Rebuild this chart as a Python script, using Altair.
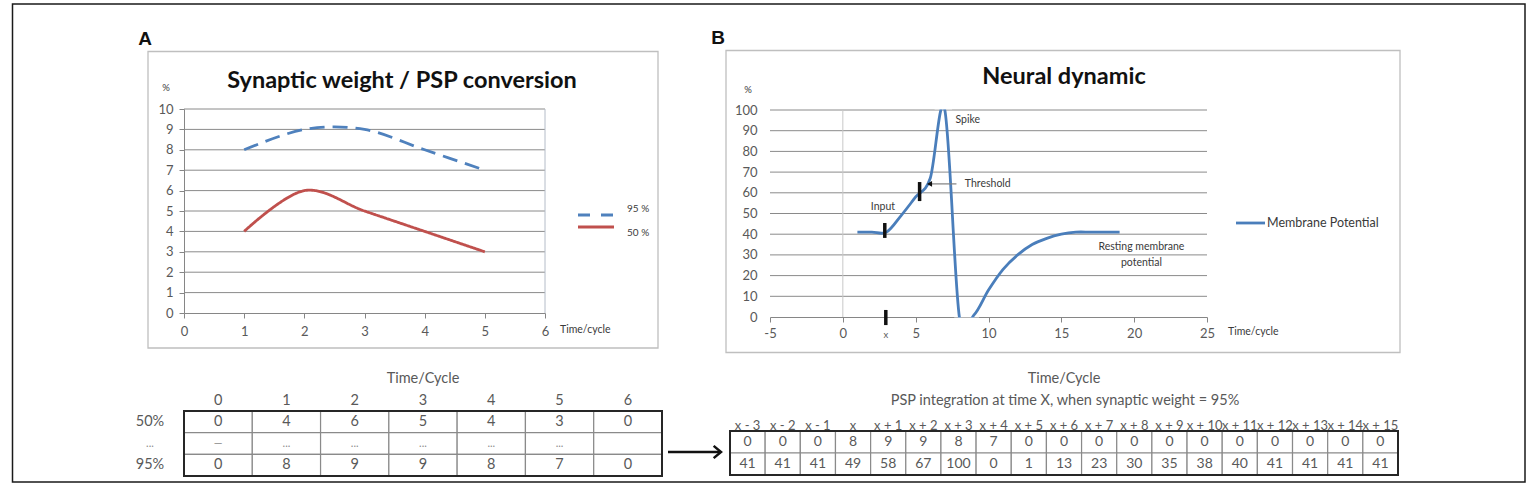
import altair as alt
import pandas as pd

# ---------------- data ----------------
a_time = [1, 2, 3, 4, 5]
a_w95 = [8, 9, 9, 8, 7]
a_w50 = [4, 6, 5, 4, 3]
a_series = ["95 %", "50 %"]
a_xticks = [0, 1, 2, 3, 4, 5, 6]
a_yticks = [0, 1, 2, 3, 4, 5, 6, 7, 8, 9, 10]

b_time = [1, 2, 3, 4, 5, 6, 7, 8, 9, 10, 11, 12, 13, 14, 15, 16, 17, 18, 19]
b_membrane = [41, 41, 41, 49, 58, 67, 100, 0, 1, 13, 23, 30, 35, 38, 40, 41, 41, 41, 41]
b_series = ["Membrane Potential"]
b_xticks = [-5, 0, 5, 10, 15, 20, 25]
b_yticks = [0, 10, 20, 30, 40, 50, 60, 70, 80, 90, 100]

b_notes = ["Spike", "Threshold", "Input", "Resting membrane", "potential"]
b_note_x = [8.58, 9.95, 2.75, 20.5, 20.5]
b_note_y = [95.2, 64.3, 53.0, 33.8, 26.0]
b_bar_x = [2.88, 5.27, 2.95]
b_bar_lo = [38.2, 56.0, -3.9]
b_bar_hi = [45.4, 65.2, 3.4]

ta_cols = ["0", "1", "2", "3", "4", "5", "6"]
ta_rows = ["50%", "...", "95%"]
ta_50 = ["0", "4", "6", "5", "4", "3", "0"]
ta_dots = ["\u2014", "...", "...", "...", "...", "...", ""]
ta_95 = ["0", "8", "9", "9", "8", "7", "0"]

tb_cols = ["x - 3", "x - 2", "x - 1", "x", "x + 1", "x + 2", "x + 3", "x + 4", "x + 5",
           "x + 6", "x + 7", "x + 8", "x + 9", "x + 10", "x + 11", "x + 12", "x + 13",
           "x + 14", "x + 15"]
tb_rows = ["psp", "mp"]
tb_psp = [0, 0, 0, 8, 9, 9, 8, 7, 0, 0, 0, 0, 0, 0, 0, 0, 0, 0, 0]
tb_mp = [41, 41, 41, 49, 58, 67, 100, 0, 1, 13, 23, 30, 35, 38, 40, 41, 41, 41, 41]

# ---------------- style ----------------
FONT = "Lato"
GRID = "#8A8A8A"
AXC = "#868686"
LAB = "#595959"
DARK = "#3A3A3A"
BLUE = "#4A7EBB"
BLUE2 = "#4F81BD"
RED = "#C0504D"
CELL = "#8A8A8A"

one = pd.DataFrame({"k": [0]})


def label(text, x, y, size, color=DARK, weight="normal", align="center",
          baseline="middle", font=FONT):
    return alt.Chart(pd.DataFrame({"t": [text]})).mark_text(
        font=font, fontSize=size, color=color, fontWeight=weight,
        align=align, baseline=baseline
    ).encode(x=alt.value(x), y=alt.value(y), text="t:N")


def box(x, x2, y, y2, stroke, sw):
    return alt.Chart(one).mark_rect(
        fill="white", fillOpacity=0, stroke=stroke, strokeWidth=sw
    ).encode(x=alt.value(x), x2=alt.value(x2), y=alt.value(y), y2=alt.value(y2))


def axis(orient, offset, values=None, **kw):
    base = dict(orient=orient, offset=offset, title=None, grid=False,
                labelFont=FONT, labelColor=LAB, labelFontSize=13,
                domainColor=AXC, tickColor=AXC, labelFlush=False,
                labelOverlap=False, labelAngle=0)
    if values is not None:
        base["values"] = values
    base.update(kw)
    return alt.Axis(**base)


layers = []

# ---------------- frames & panel letters ----------------
layers.append(box(12.5, 1525, 4, 482, "#1a1a1a", 1.5))
layers.append(box(148, 658, 51.5, 348, "#BFBFBF", 1.3))
layers.append(box(726, 1400, 50.5, 352.5, "#BFBFBF", 1.3))
layers.append(label("A", 145, 39, 19, "#111111", "bold", font="Liberation Sans"))
layers.append(label("B", 718, 38, 19, "#111111", "bold", font="Liberation Sans"))

# ---------------- panel A ----------------
A_X = alt.Scale(domain=[0, 6], range=[184, 545], nice=False, zero=False)
A_Y = alt.Scale(domain=[0, 10], range=[313, 109], nice=False, zero=False)
A_COL = alt.Scale(domain=a_series, range=[BLUE2, RED])
A_DASH = alt.Scale(domain=a_series, range=[[15, 8], [1, 0]])

layers.append(label("Synaptic weight / PSP conversion", 402, 88, 23.5, "#111111", "bold",
                    baseline="alphabetic"))
layers.append(label("%", 166, 88, 9.5, DARK))
layers.append(label("Time/cycle", 560, 330, 10.5, DARK, align="left"))

layers.append(
    alt.Chart(pd.DataFrame({"g": a_yticks[1:]})).mark_rule(color=GRID, strokeWidth=1).encode(
        y=alt.Y("g:Q", scale=A_Y, axis=None),
        x=alt.XDatum(0, type="quantitative", scale=A_X, axis=None),
        x2=alt.X2Datum(6),
    )
)
layers.append(
    alt.Chart(one).mark_rule(color="#B4BCC8", strokeWidth=1).encode(
        x=alt.XDatum(6, type="quantitative", scale=A_X, axis=None),
        y=alt.YDatum(0, type="quantitative", scale=A_Y, axis=None),
        y2=alt.Y2Datum(10),
    )
)

dfA = pd.DataFrame({
    "t": a_time + a_time,
    "v": a_w95 + a_w50,
    "s": [a_series[0]] * len(a_time) + [a_series[1]] * len(a_time),
})
layers.append(
    alt.Chart(dfA).mark_line(interpolate="cardinal", strokeWidth=2.8).encode(
        x=alt.X("t:Q", scale=A_X,
                axis=axis("bottom", -170, a_xticks, tickSize=5, labelPadding=7)),
        y=alt.Y("v:Q", scale=A_Y,
                axis=axis("left", -184, a_yticks, tickSize=5, labelPadding=6)),
        color=alt.Color("s:N", scale=A_COL, legend=None),
        strokeDash=alt.StrokeDash("s:N", scale=A_DASH, legend=None),
        detail="s:N",
    )
)

A_LEG_Y = alt.Scale(domain=a_series, range=[209, 233], padding=0)
dfAL = pd.DataFrame({"s": a_series})
layers.append(
    alt.Chart(dfAL).mark_rule(strokeWidth=2.8).encode(
        x=alt.value(578), x2=alt.value(614),
        y=alt.Y("s:N", scale=A_LEG_Y, axis=None),
        color=alt.Color("s:N", scale=A_COL, legend=None),
        strokeDash=alt.StrokeDash("s:N", scale=alt.Scale(domain=a_series, range=[[12, 11], [1, 0]]),
                                  legend=None),
    )
)
layers.append(
    alt.Chart(dfAL).mark_text(font=FONT, fontSize=10, color=DARK, align="left",
                              baseline="middle").encode(
        x=alt.value(627),
        y=alt.Y("s:N", scale=A_LEG_Y, axis=None),
        text="s:N",
    )
)

# ---------------- panel B ----------------
B_X = alt.Scale(domain=[-5, 25], range=[770, 1207], nice=False, zero=False)
B_Y = alt.Scale(domain=[0, 100], range=[317, 110], nice=False, zero=False)

layers.append(label("Neural dynamic", 1064, 84, 23.5, "#111111", "bold", baseline="alphabetic"))
layers.append(label("%", 748, 90, 9.5, DARK))
layers.append(label("Time/cycle", 1228, 332, 10.5, DARK, align="left"))

layers.append(
    alt.Chart(pd.DataFrame({"g": b_yticks[1:]})).mark_rule(color=GRID, strokeWidth=1).encode(
        y=alt.Y("g:Q", scale=B_Y, axis=None),
        x=alt.XDatum(-5, type="quantitative", scale=B_X, axis=None),
        x2=alt.X2Datum(25),
    )
)
layers.append(
    alt.Chart(one).mark_rule(color="#C8C8C8", strokeWidth=1).encode(
        x=alt.XDatum(0, type="quantitative", scale=B_X, axis=None),
        y=alt.YDatum(0, type="quantitative", scale=B_Y, axis=None),
        y2=alt.Y2Datum(100),
    )
)

dfB = pd.DataFrame({"t": b_time, "v": b_membrane})
layers.append(
    alt.Chart(dfB).mark_line(interpolate="cardinal", color=BLUE, strokeWidth=2.8).encode(
        x=alt.X("t:Q", scale=B_X,
                axis=axis("bottom", -166, b_xticks, tickSize=5, labelPadding=5,
                          labelExpr="'' + datum.value")),
        y=alt.Y("v:Q", scale=B_Y,
                axis=axis("left", -770, b_yticks, ticks=False, domain=False,
                          tickSize=0, labelPadding=13)),
    )
)
# white masks where the chart area clips the smoothed curve
layers.append(
    alt.Chart(one).mark_rect(color="white").encode(
        x=alt.XDatum(6.3, type="quantitative", scale=B_X, axis=None), x2=alt.X2Datum(7.5),
        y=alt.YDatum(100.3, type="quantitative", scale=B_Y, axis=None), y2=alt.Y2Datum(105),
    )
)
layers.append(
    alt.Chart(one).mark_rect(color="white").encode(
        x=alt.XDatum(7.65, type="quantitative", scale=B_X, axis=None), x2=alt.X2Datum(9.35),
        y=alt.YDatum(-0.3, type="quantitative", scale=B_Y, axis=None), y2=alt.Y2Datum(-8.5),
    )
)

# annotations
dfN = pd.DataFrame({"t": b_notes, "x": b_note_x, "y": b_note_y})
layers.append(
    alt.Chart(dfN).mark_text(font=FONT, fontSize=10.5, color=DARK).encode(
        x=alt.X("x:Q", scale=B_X, axis=None),
        y=alt.Y("y:Q", scale=B_Y, axis=None),
        text="t:N",
    )
)
dfBar = pd.DataFrame({"x": b_bar_x, "lo": b_bar_lo, "hi": b_bar_hi})
layers.append(
    alt.Chart(dfBar).mark_rule(color="#111111", strokeWidth=3.5).encode(
        x=alt.X("x:Q", scale=B_X, axis=None),
        y=alt.Y("lo:Q", scale=B_Y, axis=None),
        y2="hi:Q",
    )
)
layers.append(
    alt.Chart(one).mark_rule(color="#7F7F7F", strokeWidth=1.2).encode(
        x=alt.XDatum(7.8, type="quantitative", scale=B_X, axis=None), x2=alt.X2Datum(6.0),
        y=alt.YDatum(64.3, type="quantitative", scale=B_Y, axis=None),
    )
)
layers.append(
    alt.Chart(one).mark_point(shape="triangle-left", filled=True, color="#111111",
                              size=35, opacity=1).encode(
        x=alt.XDatum(5.95, type="quantitative", scale=B_X, axis=None),
        y=alt.YDatum(64.3, type="quantitative", scale=B_Y, axis=None),
    )
)
layers.append(
    alt.Chart(pd.DataFrame({"t": ["x"]})).mark_text(font=FONT, fontSize=9.5, color=LAB).encode(
        x=alt.XDatum(2.95, type="quantitative", scale=B_X, axis=None),
        y=alt.value(335),
        text="t:N",
    )
)

# legend B
dfBL = pd.DataFrame({"s": b_series})
layers.append(
    alt.Chart(dfBL).mark_rule(color=BLUE, strokeWidth=2.8).encode(
        x=alt.value(1236), x2=alt.value(1265), y=alt.value(223)
    )
)
layers.append(
    alt.Chart(dfBL).mark_text(font=FONT, fontSize=12.5, color=DARK, align="left",
                              baseline="middle").encode(
        x=alt.value(1267), y=alt.value(223), text="s:N"
    )
)

# ---------------- table A ----------------
ta_df = pd.DataFrame({
    "row": [r for r in ta_rows for _ in ta_cols],
    "col": ta_cols * len(ta_rows),
    "txt": ta_50 + ta_dots + ta_95,
})
TA_XB = alt.Scale(type="band", domain=ta_cols, range=[184, 662], paddingInner=0, paddingOuter=0)
TA_YB = alt.Scale(type="band", domain=ta_rows, range=[411, 476], paddingInner=0, paddingOuter=0)
TA_XP = alt.Scale(type="point", domain=ta_cols, range=[184, 662], padding=0.5)
TA_YP = alt.Scale(type="point", domain=ta_rows, range=[411, 476], padding=0.5)

layers.append(label("Time/Cycle", 423, 379, 14.5, LAB))
layers.append(
    alt.Chart(ta_df).mark_rect(fill="white", stroke=CELL, strokeWidth=1.2).encode(
        x=alt.X("col:O", scale=TA_XB,
                axis=axis("top", -411, domain=False, ticks=False, tickSize=0,
                          labelPadding=11, labelBaseline="middle", labelFontSize=14.5)),
        y=alt.Y("row:O", scale=TA_YB, axis=None),
    )
)
layers.append(
    alt.Chart(ta_df).mark_text(font=FONT, color=LAB).encode(
        x=alt.X("col:O", scale=TA_XP, axis=None),
        y=alt.Y("row:O", scale=TA_YP, axis=None),
        text="txt:N",
        size=alt.condition("datum.row == '...'", alt.value(11), alt.value(14.5)),
        color=alt.condition("datum.row == '...'", alt.value("#8C8C8C"), alt.value(LAB)),
    )
)
layers.append(
    alt.Chart(pd.DataFrame({"row": ta_rows})).mark_text(font=FONT, color=LAB).encode(
        x=alt.value(150),
        y=alt.Y("row:O", scale=TA_YP, axis=None),
        text="row:N",
        size=alt.condition("datum.row == '...'", alt.value(11), alt.value(14.5)),
        color=alt.condition("datum.row == '...'", alt.value("#8C8C8C"), alt.value(LAB)),
    )
)
layers.append(box(184, 662, 411, 476, "#262626", 2))

# arrow between tables
layers.append(
    alt.Chart(one).mark_rule(color="#111111", strokeWidth=2.5).encode(
        x=alt.value(668), x2=alt.value(720), y=alt.value(452)
    )
)
layers.append(
    alt.Chart(one).mark_point(shape="M -1.2 -1 L 0 0 L -1.2 1", filled=False, color="#111111",
                              strokeWidth=2.5, size=150, opacity=1).encode(
        x=alt.value(721), y=alt.value(452)
    )
)

# ---------------- table B ----------------
tb_df = pd.DataFrame({
    "row": [r for r in tb_rows for _ in tb_cols],
    "col": tb_cols * len(tb_rows),
    "txt": [str(v) for v in tb_psp] + [str(v) for v in tb_mp],
})
TB_XB = alt.Scale(type="band", domain=tb_cols, range=[730, 1398], paddingInner=0, paddingOuter=0)
TB_YB = alt.Scale(type="band", domain=tb_rows, range=[431, 475], paddingInner=0, paddingOuter=0)
TB_XP = alt.Scale(type="point", domain=tb_cols, range=[730, 1398], padding=0.5)
TB_YP = alt.Scale(type="point", domain=tb_rows, range=[431, 475], padding=0.5)

layers.append(label("Time/Cycle", 1064, 379, 14.5, LAB))
layers.append(label("PSP integration at time X, when synaptic weight = 95%", 1065, 401, 14.5, LAB))
layers.append(
    alt.Chart(tb_df).mark_rect(fill="white", stroke=CELL, strokeWidth=1.2).encode(
        x=alt.X("col:O", scale=TB_XB,
                axis=axis("top", -431, domain=False, ticks=False, tickSize=0,
                          labelPadding=6, labelBaseline="middle", labelFontSize=13)),
        y=alt.Y("row:O", scale=TB_YB, axis=None),
    )
)
layers.append(
    alt.Chart(tb_df).mark_text(font=FONT, fontSize=14, color=LAB).encode(
        x=alt.X("col:O", scale=TB_XP, axis=None),
        y=alt.Y("row:O", scale=TB_YP, axis=None),
        text="txt:N",
    )
)
layers.append(box(730, 1398, 431, 475, "#262626", 2))

chart = alt.layer(*layers).properties(
    width=1534, height=483, padding=0,
    autosize=alt.AutoSizeParams(type="none"), background="white",
).resolve_scale(
    x="independent", y="independent", color="independent",
    strokeDash="independent", size="independent",
).configure_view(stroke=None)

chart.save("out.html", embed_options={"renderer": "svg", "actions": False})
